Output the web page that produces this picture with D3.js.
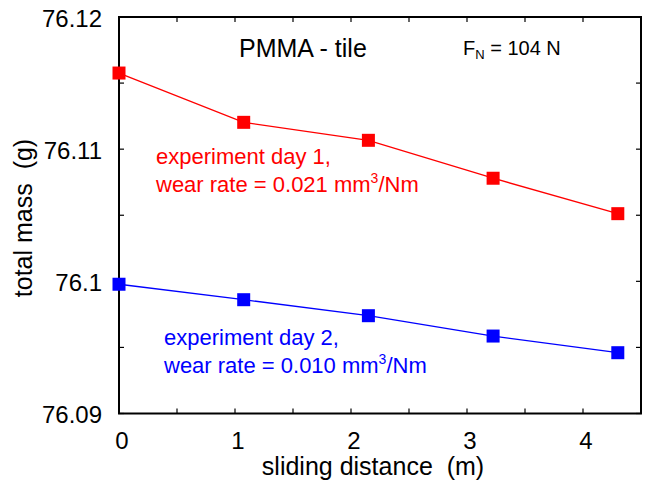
<!DOCTYPE html>
<html>
<head>
<meta charset="utf-8">
<script src="https://cdn.jsdelivr.net/npm/d3@7"></script>
<style>
  body { margin: 0; background: #fff; }
  svg { display: block; font-family: "Liberation Sans", Arial, sans-serif; }
</style>
</head>
<body>
<div id="chart"></div>
<script>
// data
var distance = [0, 1.075, 2.15, 3.225, 4.3];
var massDay1 = [76.11576, 76.11203, 76.11067, 76.10780, 76.10512];
var massDay2 = [76.09978, 76.09861, 76.09740, 76.09586, 76.09460];
var xTicks = [0, 1, 2, 3, 4];
var yTicks = [76.09, 76.1, 76.11, 76.12];
var yTickLabels = ["76.09", "76.1", "76.11", "76.12"];

var width = 647, height = 481;
var margin = {top: 17, right: 6, bottom: 67.5, left: 119};

var svg = d3.select("#chart").append("svg")
  .attr("width", width)
  .attr("height", height);

var x = d3.scaleLinear()
  .domain([0, 4.5])
  .range([margin.left, width - margin.right]);

var y = d3.scaleLinear()
  .domain([76.09, 76.12])
  .range([height - margin.bottom, margin.top]);

var minorX = d3.range(0, 4.51, 0.5);
var minorY = d3.range(0, 7).map(function(i) { return 76.09 + i * 0.005; });

// inward ticks on all four sides
var tickLen = 5;
var ticks = svg.append("g").attr("stroke", "#000").attr("stroke-width", 1.2);
minorX.forEach(function(v) {
  ticks.append("line").attr("x1", x(v)).attr("x2", x(v))
    .attr("y1", y.range()[0]).attr("y2", y.range()[0] - tickLen);
  ticks.append("line").attr("x1", x(v)).attr("x2", x(v))
    .attr("y1", y.range()[1]).attr("y2", y.range()[1] + tickLen);
});
minorY.forEach(function(v) {
  ticks.append("line").attr("y1", y(v)).attr("y2", y(v))
    .attr("x1", x.range()[0]).attr("x2", x.range()[0] + tickLen);
  ticks.append("line").attr("y1", y(v)).attr("y2", y(v))
    .attr("x1", x.range()[1]).attr("x2", x.range()[1] - tickLen);
});

// frame
svg.append("rect")
  .attr("x", x.range()[0])
  .attr("y", y.range()[1])
  .attr("width", x.range()[1] - x.range()[0])
  .attr("height", y.range()[0] - y.range()[1])
  .attr("fill", "none")
  .attr("stroke", "#000")
  .attr("stroke-width", 2);

// tick labels
svg.append("g").selectAll("text")
  .data(xTicks)
  .join("text")
  .attr("x", function(d) { return x(d) + 3; })
  .attr("y", 449)
  .attr("text-anchor", "middle")
  .attr("font-size", 24)
  .text(function(d) { return d; });

svg.append("g").selectAll("text")
  .data(yTicks)
  .join("text")
  .attr("x", 102)
  .attr("y", function(d) { return y(d); })
  .attr("dy", "0.4em")
  .attr("text-anchor", "end")
  .attr("font-size", 24)
  .text(function(d, i) { return yTickLabels[i]; });

// axis titles
svg.append("text")
  .attr("x", 373)
  .attr("y", 475)
  .attr("text-anchor", "middle")
  .attr("font-size", 25)
  .attr("xml:space", "preserve")
  .text("sliding distance  (m)");

svg.append("text")
  .attr("transform", "translate(32,218) rotate(-90)")
  .attr("text-anchor", "middle")
  .attr("font-size", 25)
  .attr("xml:space", "preserve")
  .text("total mass  (g)");

// series
var series = [
  {values: massDay1, color: "#ff0000"},
  {values: massDay2, color: "#0000ff"}
];
var line = d3.line()
  .x(function(d) { return x(d[0]); })
  .y(function(d) { return y(d[1]); });

series.forEach(function(s) {
  var pts = distance.map(function(d, i) { return [d, s.values[i]]; });
  svg.append("path")
    .datum(pts)
    .attr("d", line)
    .attr("fill", "none")
    .attr("stroke", s.color)
    .attr("stroke-width", 1.3);
  svg.append("g").selectAll("rect")
    .data(pts)
    .join("rect")
    .attr("x", function(d) { return x(d[0]) - 6.5; })
    .attr("y", function(d) { return y(d[1]) - 6.5; })
    .attr("width", 13)
    .attr("height", 13)
    .attr("fill", s.color);
});

// annotations
svg.append("text")
  .attr("x", 239)
  .attr("y", 57)
  .attr("font-size", 25)
  .text("PMMA - tile");

var fn = svg.append("text")
  .attr("x", 463)
  .attr("y", 55)
  .attr("font-size", 20);
fn.append("tspan").text("F");
fn.append("tspan").attr("font-size", 13).attr("dy", 4).text("N");
fn.append("tspan").attr("dy", -4).text(" = 104 N");

function annotate(x0, y0, color, day, rate) {
  var t = svg.append("text")
    .attr("fill", color)
    .attr("font-size", 22);
  t.append("tspan").attr("x", x0).attr("y", y0).text("experiment day " + day + ",");
  var l2 = svg.append("text")
    .attr("fill", color)
    .attr("font-size", 22)
    .attr("x", x0)
    .attr("y", y0 + 28);
  l2.append("tspan").text("wear rate = " + rate + " mm");
  l2.append("tspan").attr("font-size", 14).attr("dy", -9).text("3");
  l2.append("tspan").attr("dy", 9).text("/Nm");
}
annotate(156, 164, "#ff0000", 1, "0.021");
annotate(164, 345, "#0000ff", 2, "0.010");
</script>
</body>
</html>
